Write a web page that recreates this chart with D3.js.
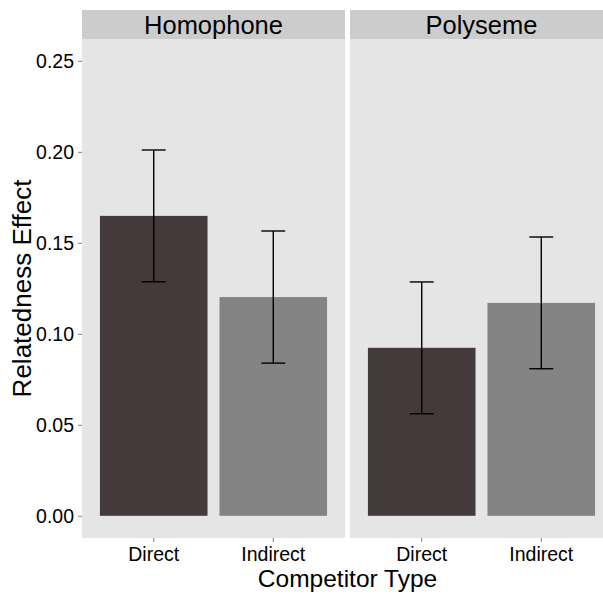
<!DOCTYPE html>
<html lang="en">
<head>
<meta charset="UTF-8">
<title>Relatedness Effect by Competitor Type</title>
<script src="https://d3js.org/d3.v7.min.js"></script>
<style>
    body { margin: 0; background: #fff; }
    svg { display: block; font-family: 'Liberation Sans', Arial, sans-serif; }
</style>
</head>
<body>
<div id="chart"></div>
<script>
    // data
    var facets = ["Homophone", "Polyseme"];
    var competitorTypes = ["Direct", "Indirect"];
    var homophoneMeans = [0.1648, 0.1202];
    var homophoneErr = [0.0362, 0.0363];
    var polysemeMeans = [0.0923, 0.1170];
    var polysemeErr = [0.0362, 0.0362];
    var yTicks = [0, 0.05, 0.10, 0.15, 0.20, 0.25];

    var width = 603, height = 595;
    var panelLeft = 82, panelTop = 39, panelBottom = 538;
    var panelW = 263, panelGap = 5, stripH = 29;
    var fills = {"Direct": "#433a3b", "Indirect": "#848484"};

    var rows = [];
    facets.forEach(function (f, i) {
        var means = i === 0 ? homophoneMeans : polysemeMeans;
        var errs = i === 0 ? homophoneErr : polysemeErr;
        competitorTypes.forEach(function (c, j) {
            rows.push({facet: f, type: c, mean: means[j], lo: means[j] - errs[j], hi: means[j] + errs[j]});
        });
    });

    var svg = d3.select("#chart").append("svg")
        .attr("width", width)
        .attr("height", height);

    var y = d3.scaleLinear()
        .domain([-0.0122, 0.262])
        .range([panelBottom, panelTop]);

    facets.forEach(function (f, i) {
        var x0 = panelLeft + i * (panelW + panelGap);
        var x = d3.scaleBand()
            .domain(competitorTypes)
            .range([x0, x0 + panelW])
            .paddingInner(0.1)
            .paddingOuter(0.15);

        var g = svg.append("g");

        // strip
        g.append("rect")
            .attr("x", x0).attr("y", panelTop - stripH)
            .attr("width", panelW).attr("height", stripH)
            .attr("fill", "#cccccc");
        g.append("text")
            .attr("x", x0 + panelW / 2)
            .attr("y", panelTop - stripH / 2)
            .attr("dy", "0.36em")
            .attr("text-anchor", "middle")
            .style("font-size", "25.5px")
            .attr("fill", "#000")
            .text(f);

        // panel background
        g.append("rect")
            .attr("x", x0).attr("y", panelTop)
            .attr("width", panelW).attr("height", panelBottom - panelTop)
            .attr("fill", "#e5e5e5");

        var data = rows.filter(function (d) { return d.facet === f; });

        g.selectAll("rect.bar")
            .data(data)
            .enter().append("rect")
            .attr("class", "bar")
            .attr("x", function (d) { return x(d.type); })
            .attr("width", x.bandwidth())
            .attr("y", function (d) { return y(d.mean); })
            .attr("height", function (d) { return y(0) - y(d.mean); })
            .attr("fill", function (d) { return fills[d.type]; });

        // error bars
        var capHalf = x.step() * 0.1;
        var eb = g.selectAll("g.err")
            .data(data)
            .enter().append("g")
            .attr("class", "err")
            .attr("stroke", "#000")
            .attr("stroke-width", 1.4);
        eb.append("line")
            .attr("x1", function (d) { return x(d.type) + x.bandwidth() / 2; })
            .attr("x2", function (d) { return x(d.type) + x.bandwidth() / 2; })
            .attr("y1", function (d) { return y(d.lo); })
            .attr("y2", function (d) { return y(d.hi); });
        eb.append("line")
            .attr("x1", function (d) { return x(d.type) + x.bandwidth() / 2 - capHalf; })
            .attr("x2", function (d) { return x(d.type) + x.bandwidth() / 2 + capHalf; })
            .attr("y1", function (d) { return y(d.hi); })
            .attr("y2", function (d) { return y(d.hi); });
        eb.append("line")
            .attr("x1", function (d) { return x(d.type) + x.bandwidth() / 2 - capHalf; })
            .attr("x2", function (d) { return x(d.type) + x.bandwidth() / 2 + capHalf; })
            .attr("y1", function (d) { return y(d.lo); })
            .attr("y2", function (d) { return y(d.lo); });

        // x axis
        var xAxis = g.append("g")
            .attr("transform", "translate(0," + panelBottom + ")")
            .call(d3.axisBottom(x).tickSize(4).tickPadding(5));
        xAxis.select(".domain").remove();
        xAxis.selectAll(".tick line").attr("stroke", "#7f7f7f");
        xAxis.selectAll(".tick text")
            .attr("fill", "#000")
            .style("font-size", "19.5px")
            .style("font-family", "'Liberation Sans', Arial, sans-serif");
    });

    // y axis
    var yAxis = svg.append("g")
        .attr("transform", "translate(" + panelLeft + ",0)")
        .call(d3.axisLeft(y).tickValues(yTicks).tickFormat(d3.format(".2f")).tickSize(4).tickPadding(4));
    yAxis.select(".domain").remove();
    yAxis.selectAll(".tick line").attr("stroke", "#7f7f7f");
    yAxis.selectAll(".tick text")
        .attr("fill", "#000")
        .style("font-size", "19.5px")
        .style("font-family", "'Liberation Sans', Arial, sans-serif");

    // axis titles
    svg.append("text")
        .attr("x", panelLeft + (2 * panelW + panelGap) / 2)
        .attr("y", 587)
        .attr("text-anchor", "middle")
        .style("font-size", "24.5px")
        .attr("fill", "#000")
        .text("Competitor Type");

    svg.append("text")
        .attr("transform", "translate(31," + ((panelTop + panelBottom) / 2) + ") rotate(-90)")
        .attr("text-anchor", "middle")
        .style("font-size", "26px")
        .attr("fill", "#000")
        .text("Relatedness Effect");
</script>
</body>
</html>
